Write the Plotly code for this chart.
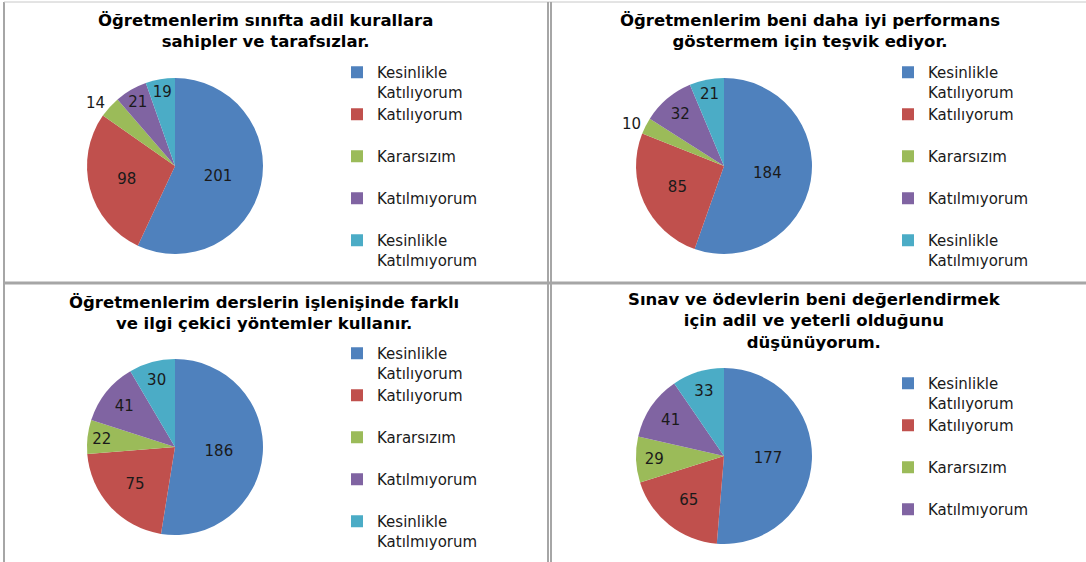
import plotly.graph_objects as go

W, H = 1086, 562

categories = ["Kesinlikle Katılıyorum", "Katılıyorum", "Kararsızım",
              "Katılmıyorum", "Kesinlikle Katılmıyorum"]
colors = ["#4F81BD", "#C0504D", "#9BBB59", "#8064A2", "#4BACC6"]

title_1 = "Öğretmenlerim sınıfta adil kurallara<br>sahipler ve tarafsızlar."
title_2 = "Öğretmenlerim beni daha iyi performans<br>göstermem için teşvik ediyor."
title_3 = "Öğretmenlerim derslerin işlenişinde farklı<br>ve ilgi çekici yöntemler kullanır."
title_4 = "Sınav ve ödevlerin beni değerlendirmek<br>için adil ve yeterli olduğunu<br>düşünüyorum."

values_1 = [201, 98, 14, 21, 19]
values_2 = [184, 85, 10, 32, 21]
values_3 = [186, 75, 22, 41, 30]
values_4 = [177, 65, 29, 41, 33]


def legend_label(c):
    parts = c.split(" ")
    if len(parts) > 1:
        return "<br>".join(parts)
    return c + "<br> "


labels = [legend_label(c) for c in categories]


def dom(cx, cy, r):
    return dict(x=[(cx - r) / W, (cx + r) / W], y=[1 - (cy + r) / H, 1 - (cy - r) / H])


R = 88
panels = [
    dict(vals=values_1, title=title_1, c=(175, 166), tx=265, ty=31, lx=337, ly=56, leg="legend"),
    dict(vals=values_2, title=title_2, c=(724, 166), tx=810, ty=31, lx=888, ly=56, leg="legend2"),
    dict(vals=values_3, title=title_3, c=(175, 447), tx=264, ty=313, lx=337, ly=337, leg="legend3"),
    dict(vals=values_4, title=title_4, c=(724, 456), tx=814, ty=321, lx=888, ly=367, leg="legend4"),
]

fig = go.Figure()
annotations = []
legends = {}
for i, p in enumerate(panels):
    tot = sum(p["vals"])
    pos = ["outside" if v / tot < 0.045 else "inside" for v in p["vals"]]
    fig.add_trace(go.Pie(
        labels=labels, values=p["vals"], sort=False, direction="clockwise", rotation=0,
        marker=dict(colors=colors, line=dict(width=0)),
        textinfo="value", textposition=pos, insidetextorientation="horizontal",
        textfont=dict(family="DejaVu Sans", size=15, color="#1a1a1a"),
        domain=dom(p["c"][0], p["c"][1], R), legend=p["leg"], legendgroup="g%d" % i,
        hoverinfo="label+value",
    ))
    annotations.append(dict(
        text=p["title"], x=p["tx"] / W, y=1 - p["ty"] / H, xref="paper", yref="paper",
        xanchor="center", yanchor="middle", showarrow=False,
        font=dict(family="DejaVu Sans", size=16.5, color="#000000", weight="bold"),
    ))
    leg = dict(x=p["lx"] / W, y=1 - p["ly"] / H, xanchor="left", yanchor="top",
               font=dict(family="DejaVu Sans", size=15, color="#1a1a1a"),
               bgcolor="rgba(0,0,0,0)", valign="top", traceorder="normal")
    if p["leg"] == "legend4":
        leg["maxheight"] = 172
    legends[p["leg"]] = leg

line_col = "#A6A6A6"
shapes = [
    dict(type="line", xref="paper", yref="paper", x0=4 / W, x1=4 / W, y0=0, y1=1 - 2 / H,
         line=dict(color=line_col, width=2)),
    dict(type="line", xref="paper", yref="paper", x0=4 / W, x1=1, y0=1 - 2 / H, y1=1 - 2 / H,
         line=dict(color="#C8C8C8", width=1)),
    dict(type="line", xref="paper", yref="paper", x0=548 / W, x1=548 / W, y0=0, y1=1 - 2 / H,
         line=dict(color=line_col, width=2)),
    dict(type="line", xref="paper", yref="paper", x0=551 / W, x1=551 / W, y0=0, y1=1 - 2 / H,
         line=dict(color=line_col, width=2)),
    dict(type="line", xref="paper", yref="paper", x0=4 / W, x1=1, y0=1 - 283 / H, y1=1 - 283 / H,
         line=dict(color=line_col, width=3)),
]

fig.update_layout(
    width=W, height=H, margin=dict(l=0, r=0, t=0, b=0),
    paper_bgcolor="white", plot_bgcolor="white",
    annotations=annotations, shapes=shapes, showlegend=True,
    uniformtext=dict(minsize=15, mode="show"),
    **legends,
)

post = (
    "document.body.style.margin='0';"
    "var s=document.createElement('style');"
    "s.textContent='.scrollbar{display:none !important;}';"
    "document.head.appendChild(s);"
)
fig.write_html("out.html", config={"displayModeBar": False}, post_script=post)
